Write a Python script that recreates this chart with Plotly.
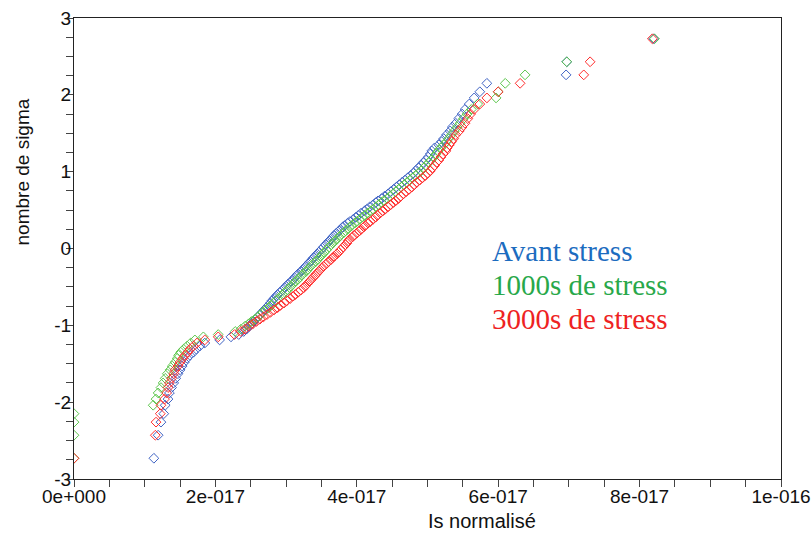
import plotly.graph_objects as go

# Normal-quantile levels (nombre de sigma), shared by the three series
sigma = [
    -2.73, -2.43, -2.26, -2.15, -2.04, -1.96, -1.88, -1.81, -1.75, -1.69,
    -1.63, -1.58, -1.53, -1.48, -1.43, -1.39, -1.35, -1.31, -1.27, -1.23,
    -1.19, -1.15, -1.12, -1.08, -1.05, -1.01, -0.98, -0.95, -0.92, -0.89,
    -0.86, -0.83, -0.80, -0.77, -0.74, -0.71, -0.68, -0.65, -0.62, -0.60,
    -0.57, -0.54, -0.51, -0.49, -0.46, -0.43, -0.41, -0.38, -0.35, -0.33,
    -0.30, -0.28, -0.25, -0.23, -0.20, -0.17, -0.15, -0.12, -0.10, -0.07,
    -0.05, -0.02,
    0.02, 0.05, 0.07, 0.10, 0.12, 0.15, 0.17, 0.20, 0.23, 0.25,
    0.28, 0.30, 0.33, 0.35, 0.38, 0.41, 0.43, 0.46, 0.49, 0.51,
    0.54, 0.57, 0.60, 0.62, 0.65, 0.68, 0.71, 0.74, 0.77, 0.80,
    0.83, 0.86, 0.89, 0.92, 0.95, 0.98, 1.01, 1.05, 1.08, 1.12,
    1.15, 1.19, 1.23, 1.27, 1.31, 1.35, 1.39, 1.43, 1.48, 1.53,
    1.58, 1.63, 1.69, 1.75, 1.81, 1.88, 1.96, 2.04, 2.15, 2.26,
    2.43, 2.73,
]

# Is normalisé, in units of 1e-17
is_avant = [
    1.13, 1.19, 1.23, 1.27, 1.29, 1.33, 1.35, 1.38, 1.41, 1.44,
    1.47, 1.50, 1.53, 1.56, 1.60, 1.64, 1.69, 1.73, 1.78, 1.85,
    2.06, 2.22, 2.33, 2.40, 2.44, 2.48, 2.51, 2.54, 2.57, 2.60,
    2.63, 2.66, 2.69, 2.72, 2.75, 2.78, 2.80, 2.83, 2.86, 2.88,
    2.91, 2.95, 2.98, 3.00, 3.03, 3.07, 3.09, 3.12, 3.15, 3.17,
    3.21, 3.23, 3.26, 3.28, 3.31, 3.34, 3.36, 3.39, 3.41, 3.44,
    3.46, 3.49,
    3.53, 3.56, 3.58, 3.61, 3.63, 3.66, 3.68, 3.71, 3.75, 3.77,
    3.80, 3.83, 3.87, 3.90, 3.95, 3.99, 4.02, 4.06, 4.11, 4.14,
    4.18, 4.23, 4.27, 4.30, 4.35, 4.39, 4.44, 4.48, 4.52, 4.56,
    4.60, 4.64, 4.68, 4.72, 4.76, 4.80, 4.83, 4.87, 4.91, 4.94,
    4.98, 5.01, 5.04, 5.06, 5.10, 5.16, 5.20, 5.23, 5.27, 5.32,
    5.35, 5.40, 5.44, 5.49, 5.53, 5.59, 5.66, 5.74, 5.84, 6.96,
    6.97, 8.20,
]

is_1000s = [
    0.00, 0.00, 0.00, 0.00, 1.12, 1.16, 1.19, 1.23, 1.26, 1.29,
    1.32, 1.36, 1.39, 1.43, 1.46, 1.48, 1.51, 1.55, 1.60, 1.65,
    1.71, 1.83, 2.04, 2.28, 2.36, 2.42, 2.47, 2.51, 2.56, 2.60,
    2.64, 2.67, 2.71, 2.75, 2.79, 2.82, 2.86, 2.89, 2.93, 2.95,
    2.98, 3.02, 3.05, 3.07, 3.10, 3.13, 3.16, 3.19, 3.22, 3.24,
    3.28, 3.30, 3.33, 3.35, 3.38, 3.42, 3.44, 3.47, 3.49, 3.52,
    3.54, 3.57,
    3.61, 3.64, 3.66, 3.69, 3.72, 3.75, 3.77, 3.81, 3.84, 3.87,
    3.90, 3.93, 3.97, 4.00, 4.04, 4.08, 4.11, 4.15, 4.20, 4.23,
    4.27, 4.31, 4.35, 4.38, 4.43, 4.47, 4.51, 4.55, 4.59, 4.63,
    4.67, 4.71, 4.75, 4.79, 4.83, 4.87, 4.91, 4.95, 4.98, 5.02,
    5.05, 5.09, 5.12, 5.15, 5.19, 5.23, 5.27, 5.30, 5.34, 5.38,
    5.42, 5.46, 5.51, 5.56, 5.62, 5.71, 5.97, 6.00, 6.10, 6.38,
    6.97, 8.21,
]

is_3000s = [
    0.00, 1.15, 1.16, 1.22, 1.23, 1.28, 1.31, 1.33, 1.35, 1.38,
    1.41, 1.43, 1.47, 1.50, 1.54, 1.57, 1.61, 1.64, 1.69, 1.74,
    1.85, 2.04, 2.27, 2.36, 2.42, 2.48, 2.53, 2.58, 2.63, 2.68,
    2.73, 2.78, 2.83, 2.88, 2.92, 2.97, 3.01, 3.06, 3.10, 3.13,
    3.17, 3.21, 3.25, 3.27, 3.30, 3.33, 3.35, 3.38, 3.41, 3.43,
    3.46, 3.48, 3.51, 3.53, 3.57, 3.60, 3.63, 3.66, 3.68, 3.72,
    3.74, 3.77,
    3.81, 3.84, 3.86, 3.88, 3.90, 3.94, 3.96, 4.00, 4.04, 4.06,
    4.10, 4.12, 4.16, 4.19, 4.23, 4.27, 4.29, 4.33, 4.37, 4.40,
    4.44, 4.48, 4.52, 4.55, 4.59, 4.62, 4.66, 4.70, 4.74, 4.78,
    4.81, 4.85, 4.89, 4.93, 4.97, 5.00, 5.04, 5.07, 5.10, 5.13,
    5.16, 5.19, 5.22, 5.26, 5.28, 5.31, 5.34, 5.37, 5.40, 5.45,
    5.49, 5.53, 5.57, 5.61, 5.66, 5.74, 5.84, 6.00, 6.31, 7.21,
    7.30, 8.18,
]

series_names = ["Avant stress", "1000s de stress", "3000s de stress"]
marker_colors = ["#3f63c4", "#5cc64c", "#ff2c2c"]
text_colors = ["#1c6cbf", "#28a84a", "#ee2222"]

x_tickvals = [0, 2e-17, 4e-17, 6e-17, 8e-17, 1e-16]
x_ticktext = ["0e+000", "2e-017", "4e-017", "6e-017", "8e-017", "1e-016"]
y_tickvals = [-3, -2, -1, 0, 1, 2, 3]
y_ticktext = ["-3", "-2", "-1", "0", "1", "2", "3"]

SCALE = 1e-17

fig = go.Figure()
for name, xs, mc in zip(series_names, [is_avant, is_1000s, is_3000s], marker_colors):
    fig.add_trace(go.Scatter(
        x=[v * SCALE for v in xs], y=sigma, mode="markers", name=name,
        marker=dict(symbol="diamond-open", size=7.5, color=mc, line=dict(width=1, color=mc)),
    ))

tick_font = dict(family="Liberation Sans, Arial, sans-serif", size=19, color="#111")
axis_common = dict(
    showgrid=False, zeroline=False, showline=True, linecolor="#222", linewidth=1,
    mirror=True, ticks="outside", ticklen=7, tickcolor="#444", tickwidth=1,
    tickfont=tick_font, automargin=False,
)

fig.update_xaxes(range=[0, 1e-16], tickvals=x_tickvals, ticktext=x_ticktext,
                 minor=dict(dtick=5e-18, ticks="outside", ticklen=7, tickcolor="#444"),
                 ticklabelstandoff=-7, **axis_common)
fig.update_yaxes(range=[-3, 3], tickvals=y_tickvals, ticktext=y_ticktext,
                 minor=dict(dtick=0.25, ticks="outside", ticklen=7, tickcolor="#444"),
                 ticklabelstandoff=-9, **axis_common)

annotations = [
    dict(text="Is normalisé", xref="paper", yref="paper", x=0.577, y=-0.091,
         xanchor="center", yanchor="middle", showarrow=False,
         font=dict(family="Liberation Sans, Arial, sans-serif", size=20, color="#111")),
    dict(text="nombre de sigma", xref="paper", yref="paper", x=-0.0735, y=0.665,
         xanchor="center", yanchor="middle", showarrow=False, textangle=-90,
         font=dict(family="Liberation Sans, Arial, sans-serif", size=19, color="#111")),
]
legend_y = [0.4946, 0.4208, 0.347]
for name, tc, ly in zip(series_names, text_colors, legend_y):
    annotations.append(dict(text=name, xref="paper", yref="paper", x=0.588, y=ly,
                            xanchor="left", yanchor="middle", showarrow=False,
                            font=dict(family="Liberation Serif, Times New Roman, serif", size=29, color=tc)))

fig.update_layout(
    width=811, height=533,
    margin=dict(l=74, r=30, t=18, b=54),
    paper_bgcolor="white", plot_bgcolor="white",
    showlegend=False,
    annotations=annotations,
)

fig.write_html("out.html", config={"displayModeBar": False},
               post_script="document.body.style.margin='0';")
